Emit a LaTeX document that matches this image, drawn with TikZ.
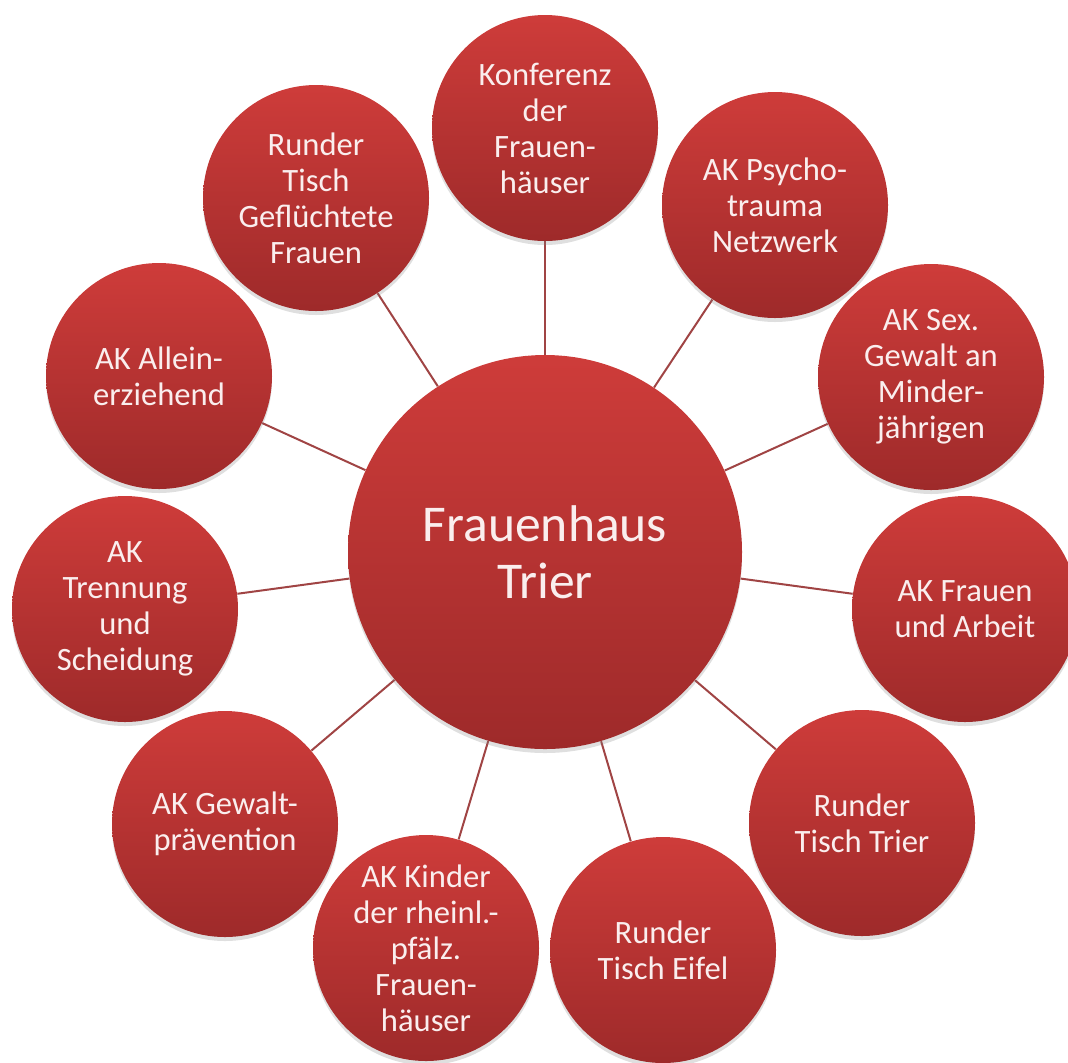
\documentclass[tikz,border=0pt]{standalone}
\usepackage{fontspec}
\setmainfont{Carlito}
\usetikzlibrary{backgrounds,shadows}
\definecolor{akred}{RGB}{206,60,58}
\definecolor{akdark}{RGB}{158,42,42}
\definecolor{linkred}{RGB}{160,68,68}
\definecolor{akwhite}{RGB}{250,238,238}
\tikzstyle{ak} = [circle, minimum size=113pt, inner sep=0pt, align=center, text=akwhite, top color=akred, bottom color=akdark, drop shadow={opacity=0.25,shadow xshift=0pt,shadow yshift=-2pt}, font=\fontsize{16.3}{18}\selectfont]
\tikzstyle{hub} = [ak, minimum size=197pt, font=\fontsize{25.8}{28.5}\selectfont]
\tikzstyle{link} = [draw=linkred, line width=1pt]

\begin{document}
\begin{tikzpicture}[x=0.5pt, y=-0.5pt]
	\useasboundingbox (0,0) rectangle (1068,1062);

	\node[hub] (fh) at (545,552) {Frauenhaus\\Trier};

	\node[ak] (konf) at (545,128) {Konferenz\\der\\Frauen-\\häuser};
	\node[ak] (psy) at (775,205) {AK Psycho-\\trauma\\Netzwerk};
	\node[ak] (sex) at (931,377) {AK Sex.\\Gewalt an\\Minder-\\jährigen};
	\node[ak] (arb) at (965,609) {AK Frauen\\und Arbeit};
	\node[ak] (rtt) at (862,823) {Runder\\Tisch Trier};
	\node[ak] (eifel) at (663,950) {Runder\\Tisch Eifel};
	\node[ak] (kind) at (426,948) {AK Kinder\\der rheinl.-\\pfälz.\\Frauen-\\häuser};
	\node[ak] (gew) at (225,824) {AK Gewalt-\\prävention};
	\node[ak] (trenn) at (125,609) {AK\\Trennung\\und\\Scheidung};
	\node[ak] (allein) at (159,376) {AK Allein-\\erziehend};
	\node[ak] (flucht) at (316,198) {Runder\\Tisch\\Geflüchtete\\Frauen};

	\begin{scope}[on background layer]
		\foreach \n in {konf,psy,sex,arb,rtt,eifel,kind,gew,trenn,allein,flucht}
			\draw[link] (fh) -- (\n);
	\end{scope}
\end{tikzpicture}
\end{document}
